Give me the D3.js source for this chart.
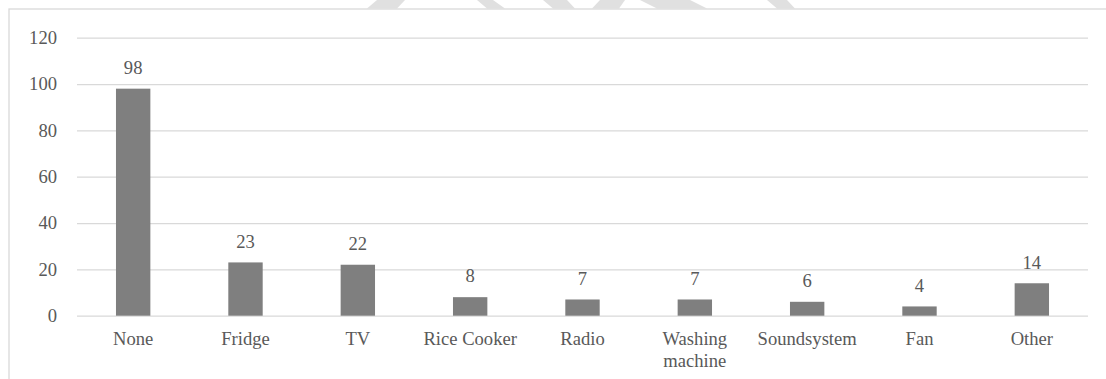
<!DOCTYPE html>
<html>
<head>
<meta charset="utf-8">
<script src="https://cdn.jsdelivr.net/npm/d3@7"></script>
<style>
  html, body { margin: 0; padding: 0; background: #ffffff; }
  svg { display: block; }
</style>
</head>
<body>
<svg id="chart" width="1106" height="379"></svg>
<script>
// Household appliances owned (count of respondents)
const categories = ["None", "Fridge", "TV", "Rice Cooker", "Radio", "Washing machine", "Soundsystem", "Fan", "Other"];
const counts = [98, 23, 22, 8, 7, 7, 6, 4, 14];
const yTicks = [0, 20, 40, 60, 80, 100, 120];

const W = 1106, H = 379;
const svg = d3.select("#chart");
const textColor = "#595959";
const gridColor = "#d9d9d9";
const barColor = "#7f7f7f";
const fontSize = 18.6;
const serif = "'Liberation Serif', 'Times New Roman', Tinos, 'DejaVu Serif', serif";

// faint background stamp strokes peeking above the chart frame
const stamp = [
  [[377, 0], [405, 0], [397, 8.5], [367, 8.5]],
  [[477, 0], [493, 0], [505, 8.5], [487, 8.5]],
  [[543, 0], [567, 0], [575, 8.5], [553, 8.5]],
  [[600, 0], [625, 0], [619, 8.5], [592, 8.5]],
  [[640, 0], [690, 0], [707, 8.5], [657, 8.5]],
  [[767, 0], [787, 0], [795, 8.5], [777, 8.5]]
];
svg.append("g").selectAll("path").data(stamp).join("path")
  .attr("d", d => d3.line()(d) + "Z")
  .attr("fill", "#e0e0e0");

// chart frame (white area with light border, running off the right and bottom)
svg.append("rect")
  .attr("x", 9).attr("y", 9)
  .attr("width", W).attr("height", H)
  .attr("fill", "#ffffff")
  .attr("stroke", gridColor)
  .attr("stroke-width", 1.3);

const x = d3.scaleBand()
  .domain(categories)
  .range([77, 1088])
  .paddingInner(0.694)
  .paddingOuter(0.347);

const y = d3.scaleLinear()
  .domain([0, 120])
  .range([315.7, 37.7]);

// horizontal gridlines + y tick labels
const yAxis = d3.axisLeft(y)
  .tickValues(yTicks)
  .tickSize(-(1088 - 77))
  .tickPadding(20)
  .tickFormat(d3.format("d"));

const gy = svg.append("g")
  .attr("transform", "translate(77,0)")
  .call(yAxis)
  .attr("font-family", null);
gy.select(".domain").remove();
gy.selectAll(".tick line")
  .attr("stroke", gridColor)
  .attr("stroke-width", 1.3);
gy.selectAll(".tick text")
  .attr("fill", textColor)
  .style("font-family", serif)
  .style("font-size", fontSize + "px");

// bars
const rows = categories.map((c, i) => ({ c, v: counts[i] }));
svg.append("g").selectAll("rect")
  .data(rows)
  .join("rect")
  .attr("x", d => x(d.c))
  .attr("y", d => y(d.v))
  .attr("width", x.bandwidth())
  .attr("height", d => y(0) - y(d.v))
  .attr("fill", barColor);

// value labels above bars
svg.append("g").selectAll("text")
  .data(rows)
  .join("text")
  .attr("x", d => x(d.c) + x.bandwidth() / 2)
  .attr("y", d => y(d.v) - 14.7)
  .attr("text-anchor", "middle")
  .attr("fill", textColor)
  .style("font-family", serif)
  .style("font-size", fontSize + "px")
  .text(d => d.v);

// category axis labels
const xAxis = d3.axisBottom(x).tickSize(0).tickPadding(0);
const gx = svg.append("g")
  .call(xAxis)
  .attr("font-family", null);
gx.select(".domain").remove();
gx.selectAll(".tick text")
  .attr("fill", textColor)
  .style("font-family", serif)
  .style("font-size", fontSize + "px")
  .attr("y", 345)
  .attr("dy", null)
  .call(wrap, x.step() * 0.95);

function wrap(sel, maxWidth) {
  sel.each(function () {
    const t = d3.select(this);
    const words = t.text().split(/\s+/);
    const y0 = t.attr("y");
    t.text(null);
    let line = [];
    let lineNo = 0;
    let tspan = t.append("tspan").attr("x", 0).attr("y", y0);
    for (const w of words) {
      line.push(w);
      tspan.text(line.join(" "));
      if (tspan.node().getComputedTextLength() > maxWidth && line.length > 1) {
        line.pop();
        tspan.text(line.join(" "));
        line = [w];
        lineNo++;
        tspan = t.append("tspan").attr("x", 0)
          .attr("y", +y0 + lineNo * 21.5)
          .text(w);
      }
    }
  });
}
</script>
</body>
</html>
